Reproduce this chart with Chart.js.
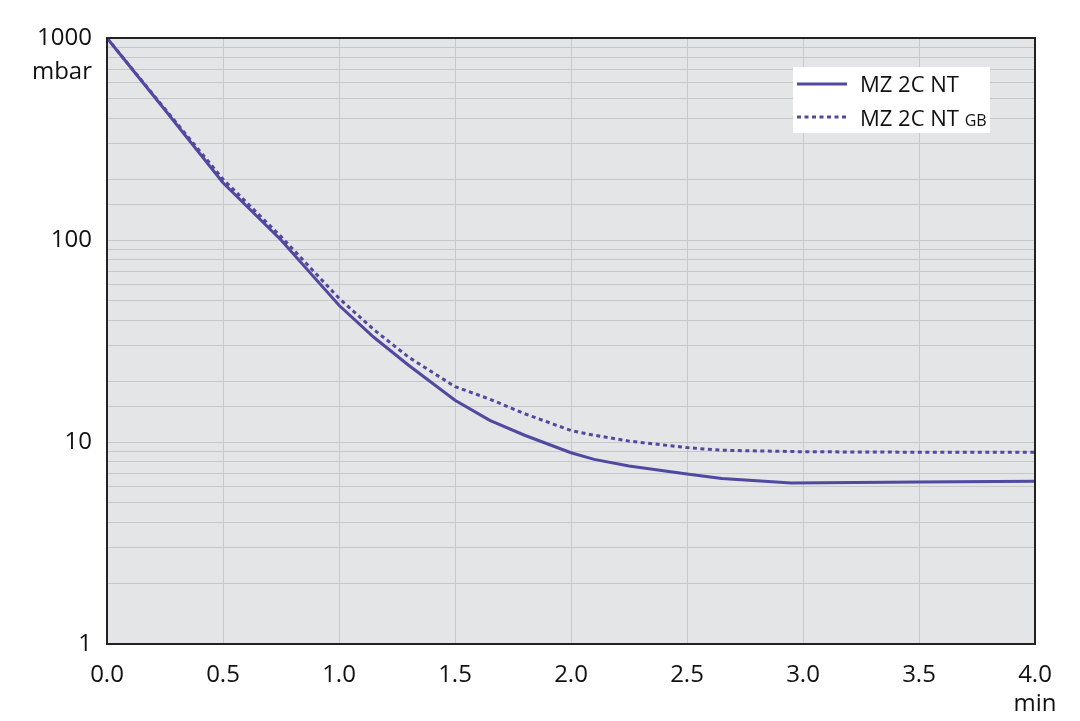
<!DOCTYPE html>
<html>
<head>
<meta charset="utf-8">
<script src="https://cdn.jsdelivr.net/npm/chart.js@4/dist/chart.umd.min.js"></script>
<style>
  html, body { margin: 0; padding: 0; background: #ffffff; }
  #wrap { width: 1080px; height: 721px; position: relative; }
</style>
</head>
<body>
<div id="wrap"><canvas id="c" width="1080" height="721"></canvas></div>
<script>
// ---- data ----
const seriesNames = ['MZ 2C NT', 'MZ 2C NT GB'];
const timeSolid  = [0, 0.25, 0.5, 0.75, 1.0, 1.15, 1.3, 1.5, 1.65, 1.8, 2.0, 2.1, 2.25, 2.5, 2.65, 2.95, 3.5, 4.0];
const valueSolid = [1000, 440, 192, 100, 47.5, 33, 24, 16.1, 12.8, 10.8, 8.85, 8.2, 7.6, 6.94, 6.6, 6.27, 6.33, 6.4];
const timeGB  = [0, 0.25, 0.5, 0.75, 1.0, 1.15, 1.3, 1.5, 1.65, 1.8, 2.0, 2.1, 2.25, 2.5, 2.65, 3.0, 3.5, 4.0];
const valueGB = [1000, 445, 200, 104, 51.5, 36, 26.3, 18.8, 16.3, 13.8, 11.4, 10.8, 10.1, 9.38, 9.1, 8.95, 8.9, 8.9];
const yMajorTicks = [1, 10, 100, 1000];
const xTickLabels = ['0.0','0.5','1.0','1.5','2.0','2.5','3.0','3.5','4.0'];
const yUnit = 'mbar';
const xUnit = 'min';

const LINE = '#5049a0';
const FONT = '"Open Sans", "DejaVu Sans", sans-serif';

function pts(xs, ys) { return xs.map((x, i) => ({ x: x, y: ys[i] })); }

const framePlugin = {
  id: 'frame',
  beforeDraw(chart) {
    const { ctx, chartArea: a } = chart;
    ctx.save();
    ctx.fillStyle = '#e4e5e7';
    ctx.fillRect(a.left, a.top, a.right - a.left, a.bottom - a.top);
    ctx.restore();
  },
  afterDatasetsDraw(chart) {
    const { ctx, chartArea: a } = chart;
    ctx.save();
    ctx.strokeStyle = '#222222';
    ctx.lineWidth = 2;
    ctx.strokeRect(a.left, a.top, a.right - a.left, a.bottom - a.top);
    // unit label under top y tick
    const ys = chart.scales.y;
    ctx.fillStyle = '#111111';
    ctx.font = '24px ' + FONT;
    ctx.textAlign = 'right';
    ctx.textBaseline = 'middle';
    ctx.fillText(yUnit, a.left - 15, ys.getPixelForValue(1000) + 34);
    // legend
    const lx = 793, ly = 67, lw = 197, lh = 66;
    ctx.fillStyle = '#ffffff';
    ctx.fillRect(lx, ly, lw, lh);
    ctx.strokeStyle = LINE;
    ctx.lineWidth = 3;
    ctx.beginPath(); ctx.moveTo(797, 84); ctx.lineTo(847, 84); ctx.stroke();
    ctx.setLineDash([4, 3.5]);
    ctx.beginPath(); ctx.moveTo(797, 117); ctx.lineTo(847, 117); ctx.stroke();
    ctx.setLineDash([]);
    ctx.fillStyle = '#111111';
    ctx.textAlign = 'left';
    ctx.textBaseline = 'alphabetic';
    ctx.font = '22px ' + FONT;
    ctx.fillText(seriesNames[0], 860, 92);
    ctx.fillText('MZ 2C NT', 860, 126);
    const w = ctx.measureText('MZ 2C NT ').width;
    ctx.font = '16px ' + FONT;
    ctx.fillText('GB', 860 + w, 126);
    ctx.restore();
  }
};

new Chart(document.getElementById('c'), {
  type: 'line',
  data: {
    datasets: [
      { label: seriesNames[0], data: pts(timeSolid, valueSolid), borderColor: LINE, borderWidth: 3, pointRadius: 0, tension: 0, fill: false },
      { label: seriesNames[1], data: pts(timeGB, valueGB), borderColor: LINE, borderWidth: 3, borderDash: [4, 3.5], pointRadius: 0, tension: 0, fill: false }
    ]
  },
  options: {
    responsive: false,
    animation: false,
    devicePixelRatio: 1,
    layout: { padding: { top: 38, right: 45, left: 0, bottom: 0 } },
    plugins: { legend: { display: false }, tooltip: { enabled: false } },
    scales: {
      x: {
        type: 'linear', min: 0, max: 4,
        afterFit(s) { s.height = 77; },
        ticks: {
          stepSize: 0.5, padding: 17, color: '#111111',
          font: { family: FONT, size: 24, lineHeight: 1.2 },
          maxRotation: 0, autoSkip: false,
          callback(v) {
            const i = Math.round(v * 2);
            const lbl = xTickLabels[i];
            return i === xTickLabels.length - 1 ? [lbl, xUnit] : lbl;
          }
        },
        grid: { color: '#c6c7c9', lineWidth: 1, drawTicks: false },
        border: { display: false }
      },
      y: {
        type: 'logarithmic', min: 1, max: 1000,
        afterFit(s) { s.width = 107; },
        ticks: {
          padding: 15, color: '#111111', autoSkip: false,
          font: { family: FONT, size: 24 },
          callback(v) { return yMajorTicks.includes(v) ? String(v) : ''; }
        },
        grid: { color: '#c6c7c9', lineWidth: 1, drawTicks: false },
        border: { display: false }
      }
    }
  },
  plugins: [framePlugin]
});
</script>
</body>
</html>
